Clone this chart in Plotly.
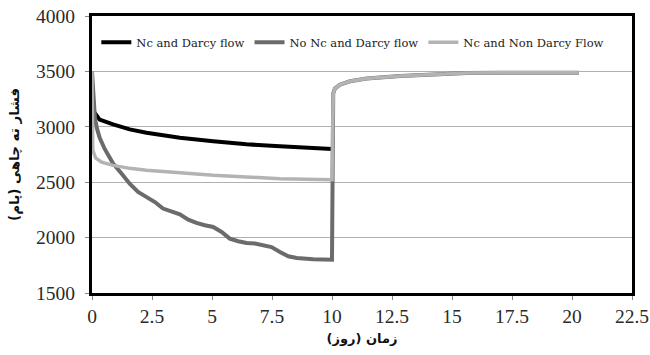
import plotly.graph_objects as go

# Time (days) and bottom-hole pressure values
days_nc_darcy = [0, 0.32, 0.88, 1.57, 2.27, 3.66, 5.05, 6.44, 7.83, 9.22, 10.0]
p_nc_darcy = [3160, 3065, 3022, 2977, 2947, 2902, 2869, 2842, 2824, 2809, 2800]

days_no_nc = [0, 0.06, 0.12, 0.2, 0.32, 0.53, 0.88, 1.23, 1.57, 1.92, 2.27, 2.62, 2.96, 3.31,
              3.66, 4.01, 4.35, 4.70, 5.05, 5.4, 5.74, 6.09, 6.44, 6.79, 7.13, 7.48,
              7.83, 8.18, 8.53, 9.22, 10.0,
              10.05, 10.12, 10.33, 10.75, 11.45, 12.84, 14.23, 15.62, 17.01, 20.28]
p_no_nc = [3500, 3200, 3080, 2990, 2900, 2800, 2668, 2578, 2487, 2412, 2367, 2321, 2262, 2232,
           2210, 2162, 2132, 2111, 2096, 2051, 1991, 1967, 1951, 1946, 1931, 1915,
           1870, 1831, 1816, 1804, 1801,
           3300, 3345, 3380, 3411, 3435, 3458, 3473, 3485, 3488, 3488]

days_non_darcy = [0, 0.03, 0.15, 0.4, 0.88, 1.57, 2.27, 3.66, 5.05, 6.44, 7.83, 10.0,
                  10.05, 10.12, 10.33, 10.75, 11.45, 12.84, 14.23, 15.62, 17.01, 20.28]
p_non_darcy = [3500, 2790, 2720, 2680, 2652, 2625, 2607, 2583, 2562, 2547, 2532, 2523,
               3300, 3345, 3380, 3411, 3435, 3458, 3473, 3485, 3488, 3488]

series_names = ["Nc and Darcy flow", "No Nc and Darcy flow", "Nc and Non Darcy Flow"]
x_ticks = [0, 2.5, 5, 7.5, 10, 12.5, 15, 17.5, 20, 22.5]
x_tick_text = ["0", "2.5", "5", "7.5", "10", "12.5", "15", "17.5", "20", "22.5"]
y_ticks = [1500, 2000, 2500, 3000, 3500, 4000]

fig = go.Figure()
fig.add_trace(go.Scatter(x=days_nc_darcy, y=p_nc_darcy, mode="lines", name=series_names[0],
                         line=dict(color="#000000", width=4)))
fig.add_trace(go.Scatter(x=days_no_nc, y=p_no_nc, mode="lines", name=series_names[1],
                         line=dict(color="#6b6b6b", width=4)))
fig.add_trace(go.Scatter(x=days_non_darcy, y=p_non_darcy, mode="lines", name=series_names[2],
                         line=dict(color="#b3b3b3", width=3.5)))

fig.update_layout(
    width=650, height=355,
    margin=dict(l=92, r=18, t=16, b=62),
    paper_bgcolor="white", plot_bgcolor="white",
    font=dict(family="Liberation Serif", size=19.5, color="#2a2a2a"),
    showlegend=True,
    legend=dict(orientation="h", x=0.008, y=0.905, xanchor="left", yanchor="middle",
                font=dict(family="DejaVu Serif", size=11.5, color="#222"),
                bgcolor="rgba(0,0,0,0)", itemwidth=30, tracegroupgap=0),
    xaxis=dict(range=[0, 22.5], tickvals=x_ticks, ticktext=x_tick_text, automargin=False,
               showgrid=False, zeroline=False, ticklabeloverflow="allow",
               showline=True, linecolor="black", linewidth=3, mirror=True,
               ticks="outside", ticklen=4, tickcolor="#888",
               title=dict(text="<b>زمان (روز)</b>", font=dict(family="DejaVu Sans", size=13, color="#111"),
                          standoff=8)),
    yaxis=dict(range=[1500, 4000], tickvals=y_ticks, automargin=False,
               showgrid=True, gridcolor="#b0b0b0", gridwidth=1.2, zeroline=False,
               ticklabeloverflow="allow",
               showline=True, linecolor="black", linewidth=3, mirror=True,
               ticks="outside", ticklen=4, tickcolor="#888", ticklabelstandoff=6,
               title=dict(text="<b>فشار ته چاهی (پام)</b>", font=dict(family="DejaVu Sans", size=13.5, color="#111"),
                          standoff=14)),
)

# remove the default 8px page margin so the figure fills the window exactly
fig.write_html("out.html", config={"displayModeBar": False},
               post_script="document.body.style.margin='0';")
